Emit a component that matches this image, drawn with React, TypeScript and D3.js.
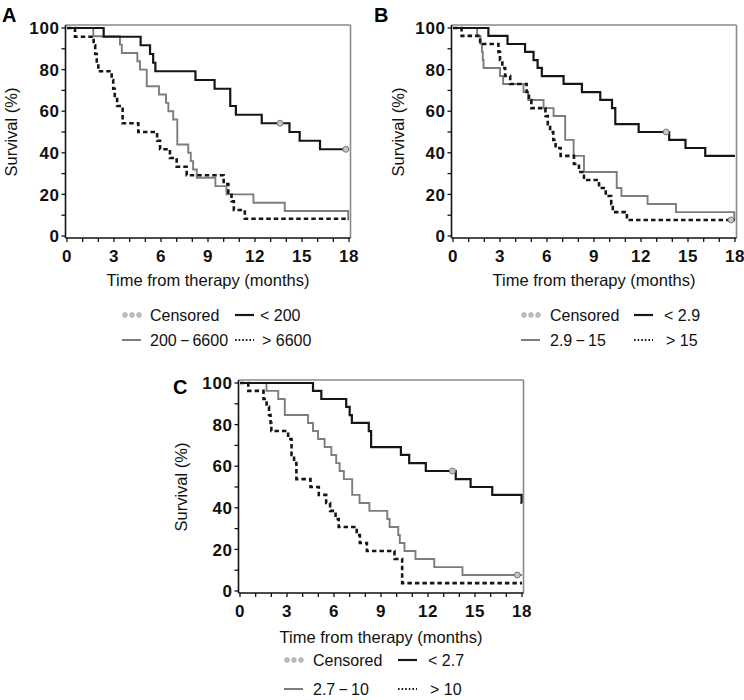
import React from 'react';
import * as d3 from 'd3';

// ---------- axis ticks ----------
const monthTicks = [0, 3, 6, 9, 12, 15, 18];
const monthMinor = d3.range(0, 19, 1);
const survivalTicks = [0, 20, 40, 60, 80, 100];
const survivalMinor = d3.range(0, 101, 10);

// ---------- Panel A ----------
const aLowT = [0, 2.34, 4.7, 5.3, 5.5, 5.64, 8.2, 9.42, 10.42, 10.78, 12.43, 14.2, 14.85, 16.15];
const aLowS = [100, 95.8, 91.7, 87.5, 83.3, 79.2, 75, 70.8, 62.5, 58.3, 54.2, 50, 45.8, 41.7];
const aMidT = [0, 1.68, 3.38, 3.5, 4.49, 4.66, 5.09, 5.87, 6.32, 6.47, 6.78, 7.04, 7.74, 7.9, 8.05, 8.28, 9.47, 10.18, 11.9, 13.9, 17.95];
const aMidS = [100, 96, 92, 88, 84, 80, 72, 68, 64, 60, 56, 44, 40, 36, 32, 28, 24, 20, 16, 12, 8];
const aHighT = [0, 0.51, 1.7, 1.8, 1.9, 2.0, 2.85, 2.95, 3.05, 3.2, 3.55, 4.55, 5.75, 5.94, 6.57, 7.0, 7.64, 10.0, 10.3, 10.5, 10.65, 11.35];
const aHighS = [100, 95.8, 91.7, 87.5, 83.3, 79.2, 75, 70.8, 66.7, 62.5, 54.2, 50, 45.8, 41.7, 37.5, 33.3, 29.2, 25, 20.8, 16.7, 12.5, 8.3];
const aCensorT = [13.6, 17.8];
const aCensorS = [54.2, 41.7];
const aLegend = ['Censored', '< 200', '200\u2009\u2212\u20096600', '> 6600'];

// ---------- Panel B ----------
const bLowT = [0, 2.26, 3.48, 4.6, 5.14, 5.4, 5.67, 7.06, 8.23, 9.4, 10.15, 10.36, 11.85, 13.8, 14.84, 16.1];
const bLowS = [100, 96.2, 92.3, 88.5, 84.6, 80.8, 76.9, 73.1, 69.2, 65.4, 61.5, 53.8, 50, 46.2, 42.3, 38.5];
const bMidT = [0, 1.54, 1.75, 1.85, 1.9, 1.95, 3.0, 3.2, 4.5, 4.8, 5.78, 6.42, 7.16, 7.7, 8.36, 10.45, 10.75, 12.42, 14.23, 17.95];
const bMidS = [100, 96.2, 92.3, 88.5, 84.6, 80.8, 76.9, 73.1, 69.2, 65.4, 61.5, 57.7, 46.2, 38.5, 30.8, 23.1, 19.2, 15.4, 11.5, 7.7];
const bHighT = [0, 0.55, 1.73, 2.9, 3.0, 3.15, 3.33, 3.65, 4.7, 4.85, 5.0, 5.9, 6.05, 6.2, 6.4, 6.55, 6.87, 7.72, 8.04, 8.36, 9.32, 9.75, 10.1, 10.2, 11.1];
const bHighS = [100, 96.2, 92.3, 88.5, 84.6, 80.8, 76.9, 73.1, 69.2, 65.4, 61.5, 57.7, 53.8, 50, 46.2, 42.3, 38.5, 34.6, 30.8, 26.9, 23.1, 19.2, 15.4, 11.5, 7.7];
const bCensorT = [13.6, 17.75];
const bCensorS = [50, 7.7];
const bLegend = ['Censored', '< 2.9', '2.9\u2009\u2212\u200915', '> 15'];

// ---------- Panel C ----------
const cLowT = [0, 4.66, 5.19, 6.78, 7.0, 7.14, 8.22, 8.37, 10.27, 10.8, 11.86, 13.77, 14.72, 16.1, 17.97];
const cLowS = [100, 96.2, 92.3, 88.5, 84.6, 80.8, 76.9, 69.2, 65.4, 61.5, 57.7, 53.8, 50, 46.2, 42.3];
const cMidT = [0, 1.69, 2.44, 2.86, 4.34, 4.66, 4.98, 5.4, 5.83, 6.14, 6.36, 6.63, 7.16, 7.63, 8.26, 9.4, 9.55, 10.1, 10.2, 10.5, 11.2, 12.4, 14.2];
const cMidS = [100, 96.2, 92.3, 84.6, 80.8, 76.9, 73.1, 69.2, 65.4, 61.5, 57.7, 53.8, 46.2, 42.3, 38.5, 34.6, 30.8, 26.9, 23.1, 19.2, 15.4, 11.5, 7.7];
const cHighT = [0, 0.53, 1.5, 1.7, 1.85, 1.95, 2.0, 3.07, 3.29, 3.45, 3.6, 4.5, 5.03, 5.5, 5.75, 6.1, 6.3, 7.45, 7.65, 8.1, 9.86, 10.35];
const cHighS = [100, 96.2, 92.3, 88.5, 84.6, 80.8, 76.9, 73.1, 65.4, 61.5, 53.8, 50, 46.2, 42.3, 38.5, 34.6, 30.8, 26.9, 23.1, 19.2, 15.4, 3.8];
const cCensorT = [13.56, 17.7];
const cCensorS = [57.7, 7.7];
const cLegend = ['Censored', '< 2.7', '2.7\u2009\u2212\u200910', '> 10'];

const FONT = '"Liberation Sans", Arial, Helvetica, sans-serif';
const PW = 282;
const PH = 208;

const BLACK = '#161616';
const GREY = '#7d7d7d';

type Cfg = {
  letter: string;
  left: number;
  top: number;
  letterX: number;
  letterY: number;
  yTitleX: number;
  xTitleDy: number;
  legRow1: number;
  legRow2: number;
  legX: [number, number, number, number]; // symbol1, text1, symbol2, text2
};

function stepPath(T: number[], S: number[], x: d3.ScaleLinear<number, number>, y: d3.ScaleLinear<number, number>) {
  const pts: [number, number][] = T.map((t, i) => [t, S[i]]);
  pts.push([18, S[S.length - 1]]);
  return d3
    .line<[number, number]>()
    .x((d) => x(d[0]))
    .y((d) => y(d[1]))
    .curve(d3.curveStepAfter)(pts) as string;
}

function Panel(props: {
  cfg: Cfg;
  low: [number[], number[]];
  mid: [number[], number[]];
  high: [number[], number[]];
  censor: [number[], number[]];
  legend: string[];
}) {
  const { cfg, low, mid, high, censor, legend } = props;
  const x = d3.scaleLinear().domain([0, 18]).range([cfg.left, cfg.left + PW]);
  const y = d3.scaleLinear().domain([0, 100]).range([cfg.top + PH, cfg.top]);
  const axL = cfg.left - 1.5;
  const axB = cfg.top + PH + 2;
  const frT = cfg.top - 3;
  const frR = cfg.left + PW + 1.5;
  const [s1, t1, s2, t2] = cfg.legX;
  return (
    <g>
      <text x={cfg.letterX} y={cfg.letterY} fontFamily={FONT} fontWeight="bold" fontSize={20} fill="#000">
        {cfg.letter}
      </text>
      {/* frame */}
      <line x1={axL} x2={frR} y1={frT} y2={frT} stroke="#8a8a8a" strokeWidth={1.6} />
      <line x1={frR} x2={frR} y1={frT} y2={axB} stroke="#8a8a8a" strokeWidth={1.6} />
      <line x1={axL} x2={axL} y1={frT} y2={axB} stroke="#111" strokeWidth={1.6} />
      <line x1={axL} x2={frR} y1={axB} y2={axB} stroke="#111" strokeWidth={1.6} />
      {survivalMinor.map((v) => (
        <line key={'ym' + v} x1={axL - 4} x2={axL} y1={y(v)} y2={y(v)} stroke="#111" strokeWidth={1.3} />
      ))}
      {monthMinor.map((m) => (
        <line key={'xm' + m} x1={x(m)} x2={x(m)} y1={axB} y2={axB + 4} stroke="#111" strokeWidth={1.3} />
      ))}
      {survivalTicks.map((v) => (
        <text
          key={'yl' + v}
          x={axL - 6}
          y={y(v)}
          dy="0.36em"
          textAnchor="end"
          fontFamily={FONT}
          fontWeight="bold"
          fontSize={17}
          letterSpacing={0.6}
          fill="#111"
        >
          {v}
        </text>
      ))}
      {monthTicks.map((m) => (
        <text
          key={'xl' + m}
          x={x(m)}
          y={cfg.top + PH + 26}
          textAnchor="middle"
          fontFamily={FONT}
          fontWeight="bold"
          fontSize={17}
          letterSpacing={0.6}
          fill="#111"
        >
          {m}
        </text>
      ))}
      <text
        transform={`translate(${cfg.yTitleX},${cfg.top + PH / 2}) rotate(-90)`}
        textAnchor="middle"
        dy="0.35em"
        fontFamily={FONT}
        fontSize={16.5}
        fill="#111"
      >
        Survival (%)
      </text>
      <text
        x={cfg.left + PW / 2}
        y={cfg.top + PH + cfg.xTitleDy}
        textAnchor="middle"
        fontFamily={FONT}
        fontSize={16.5}
        fill="#111"
      >
        Time from therapy (months)
      </text>
      {/* curves */}
      <path d={stepPath(mid[0], mid[1], x, y)} fill="none" stroke={GREY} strokeWidth={1.9} />
      <path d={stepPath(high[0], high[1], x, y)} fill="none" stroke={BLACK} strokeWidth={2.6} strokeDasharray="4.5,3" />
      <path d={stepPath(low[0], low[1], x, y)} fill="none" stroke={BLACK} strokeWidth={2.2} />
      {censor[0].map((t, i) => (
        <circle key={'c' + i} cx={x(t)} cy={y(censor[1][i])} r={3} fill="#c4c4c4" stroke="#7a7a7a" strokeWidth={1} />
      ))}
      {/* legend */}
      {[0, 1, 2].map((k) => (
        <circle key={'ld' + k} cx={s1 + 3 + k * 7} cy={cfg.legRow1} r={2.4} fill="#bdbdbd" stroke="#a0a0a0" strokeWidth={0.6} />
      ))}
      <text x={t1} y={cfg.legRow1} dy="0.36em" fontFamily={FONT} fontSize={16} fill="#111">
        {legend[0]}
      </text>
      <line x1={s2} x2={s2 + 19} y1={cfg.legRow1} y2={cfg.legRow1} stroke={BLACK} strokeWidth={2.2} />
      <text x={t2} y={cfg.legRow1} dy="0.36em" fontFamily={FONT} fontSize={16} fill="#111">
        {legend[1]}
      </text>
      <line x1={s1} x2={s1 + 19} y1={cfg.legRow2} y2={cfg.legRow2} stroke={GREY} strokeWidth={2} />
      <text x={t1} y={cfg.legRow2} dy="0.36em" fontFamily={FONT} fontSize={16} fill="#111">
        {legend[2]}
      </text>
      <line
        x1={s2}
        x2={s2 + 19}
        y1={cfg.legRow2}
        y2={cfg.legRow2}
        stroke={BLACK}
        strokeWidth={1.8}
        strokeDasharray="1.6,2"
      />
      <text x={t2 + 2} y={cfg.legRow2} dy="0.36em" fontFamily={FONT} fontSize={16} fill="#111">
        {legend[3]}
      </text>
    </g>
  );
}

const cfgA: Cfg = {
  letter: 'A', left: 67, top: 28, letterX: 2, letterY: 22, yTitleX: 11, xTitleDy: 50,
  legRow1: 315, legRow2: 340, legX: [122, 150, 235, 260],
};
const cfgB: Cfg = {
  letter: 'B', left: 453, top: 28, letterX: 374, letterY: 22, yTitleX: 398, xTitleDy: 50,
  legRow1: 315, legRow2: 340, legX: [521, 550, 634, 664],
};
const cfgC: Cfg = {
  letter: 'C', left: 240, top: 383, letterX: 173, letterY: 394, yTitleX: 181, xTitleDy: 52,
  legRow1: 660, legRow2: 689, legX: [284, 313, 398, 428],
};

export default function App() {
  return (
    <svg
      width={744}
      height={700}
      viewBox="0 0 744 700"
      style={{ position: 'absolute', left: 0, top: 0, background: '#fff' }}
    >
      <rect x={0} y={0} width={744} height={700} fill="#fff" />
      <Panel cfg={cfgA} low={[aLowT, aLowS]} mid={[aMidT, aMidS]} high={[aHighT, aHighS]} censor={[aCensorT, aCensorS]} legend={aLegend} />
      <Panel cfg={cfgB} low={[bLowT, bLowS]} mid={[bMidT, bMidS]} high={[bHighT, bHighS]} censor={[bCensorT, bCensorS]} legend={bLegend} />
      <Panel cfg={cfgC} low={[cLowT, cLowS]} mid={[cMidT, cMidS]} high={[cHighT, cHighS]} censor={[cCensorT, cCensorS]} legend={cLegend} />
    </svg>
  );
}
